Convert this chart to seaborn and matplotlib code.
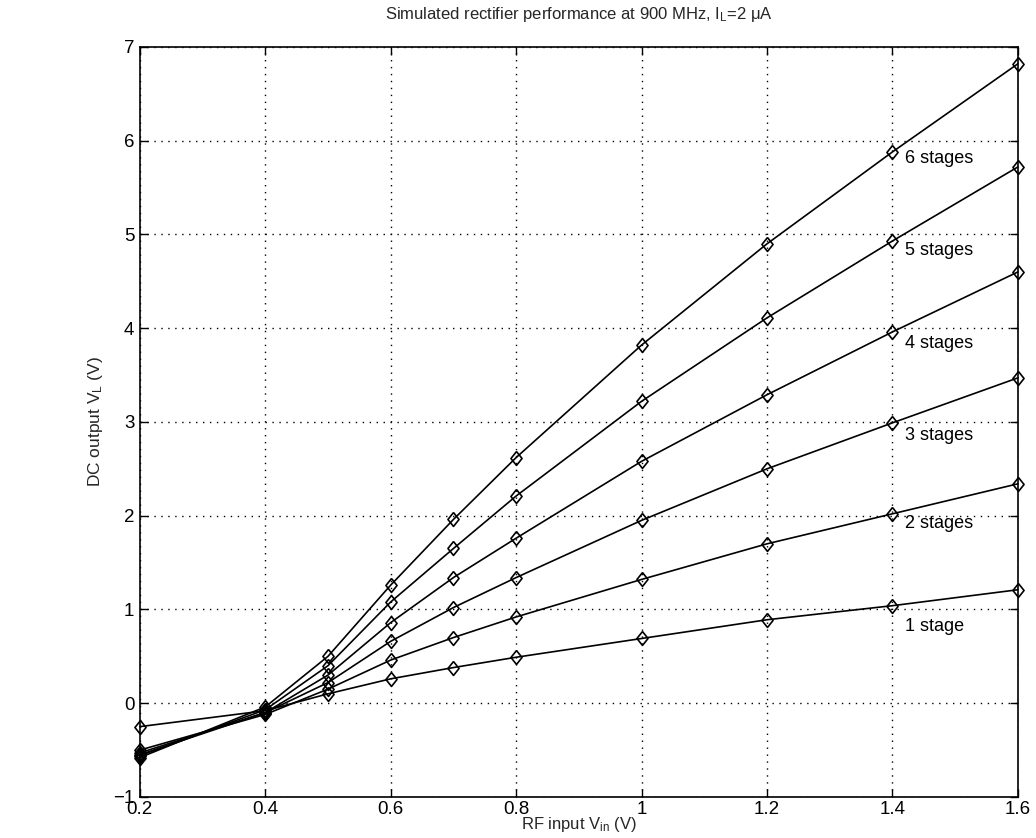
import matplotlib
matplotlib.use("Agg")
import matplotlib.pyplot as plt
import seaborn as sns
import pandas as pd

vin = [0.2, 0.4, 0.5, 0.6, 0.7, 0.8, 1.0, 1.2, 1.4, 1.6]
stage1 = [-0.25, -0.08, 0.10, 0.26, 0.38, 0.49, 0.69, 0.89, 1.04, 1.21]
stage2 = [-0.50, -0.12, 0.15, 0.46, 0.70, 0.92, 1.32, 1.70, 2.02, 2.34]
stage3 = [-0.53, -0.10, 0.22, 0.66, 1.02, 1.34, 1.95, 2.50, 2.99, 3.47]
stage4 = [-0.55, -0.10, 0.30, 0.86, 1.34, 1.76, 2.58, 3.29, 3.96, 4.60]
stage5 = [-0.56, -0.07, 0.40, 1.08, 1.65, 2.21, 3.22, 4.11, 4.93, 5.72]
stage6 = [-0.58, -0.04, 0.50, 1.26, 1.96, 2.62, 3.82, 4.90, 5.88, 6.82]
series = [stage1, stage2, stage3, stage4, stage5, stage6]
labels = ["1 stage", "2 stages", "3 stages", "4 stages", "5 stages", "6 stages"]
label_x = 1.42
label_y = [0.82, 1.92, 2.86, 3.84, 4.83, 5.81]
xticks = [0.2, 0.4, 0.6, 0.8, 1.0, 1.2, 1.4, 1.6]
xticklabels = ["0.2", "0.4", "0.6", "0.8", "1", "1.2", "1.4", "1.6"]
yticks = [-1, 0, 1, 2, 3, 4, 5, 6, 7]

sns.set_theme(style="ticks")
plt.rcParams["font.family"] = ["Liberation Sans", "DejaVu Sans"]
plt.rcParams["mathtext.fontset"] = "custom"
plt.rcParams["mathtext.rm"] = "Liberation Sans"
plt.rcParams["mathtext.it"] = "Liberation Sans"

rows = []
for lab, vals in zip(labels, series):
    for x, y in zip(vin, vals):
        rows.append({"vin": x, "vout": y, "stage": lab})
df = pd.DataFrame(rows)

diamond = [(0, 1), (0.8, 0), (0, -1), (-0.8, 0), (0, 1)]

fig = plt.figure(figsize=(10.36, 8.38), dpi=100)
ax = fig.add_axes([0.135, 0.049, 0.8475, 0.895])

for lab in labels:
    sub = df[df["stage"] == lab]
    sns.lineplot(data=sub, x="vin", y="vout", ax=ax, color="black", lw=1.2,
                 marker=diamond, markersize=10, markerfacecolor="none",
                 markeredgecolor="black", markeredgewidth=1.2, sort=True,
                 estimator=None, clip_on=False)

for lab, ly in zip(labels, label_y):
    ax.text(label_x, ly, lab, fontsize=13, va="center", ha="left", color="black")

ax.set_xlim(0.2, 1.6)
ax.set_ylim(-1, 7)
ax.set_xticks(xticks)
ax.set_xticklabels(xticklabels)
ax.set_yticks(yticks)
ax.grid(True, linestyle=(0, (1, 4)), color="black", linewidth=1.0)
ax.tick_params(direction="in", top=True, right=True, length=6, width=1.0,
               labelsize=13.5, colors="black", pad=4)
ax.tick_params(axis="x", pad=3)
for s in ax.spines.values():
    s.set_color("black")
    s.set_linewidth(1.2)

ax.set_xlabel(r"RF input V$_{\mathrm{in}}$ (V)", fontsize=12, labelpad=-2)
ax.set_ylabel(r"DC output V$_{\mathrm{L}}$ (V)", fontsize=12.5, labelpad=6)
ax.set_title(r"Simulated rectifier performance at 900 MHz, I$_{\mathrm{L}}$=2 $\mathrm{\mu}$A",
             fontsize=12, pad=20)

fig.savefig("out.png", dpi=100, facecolor="white")
